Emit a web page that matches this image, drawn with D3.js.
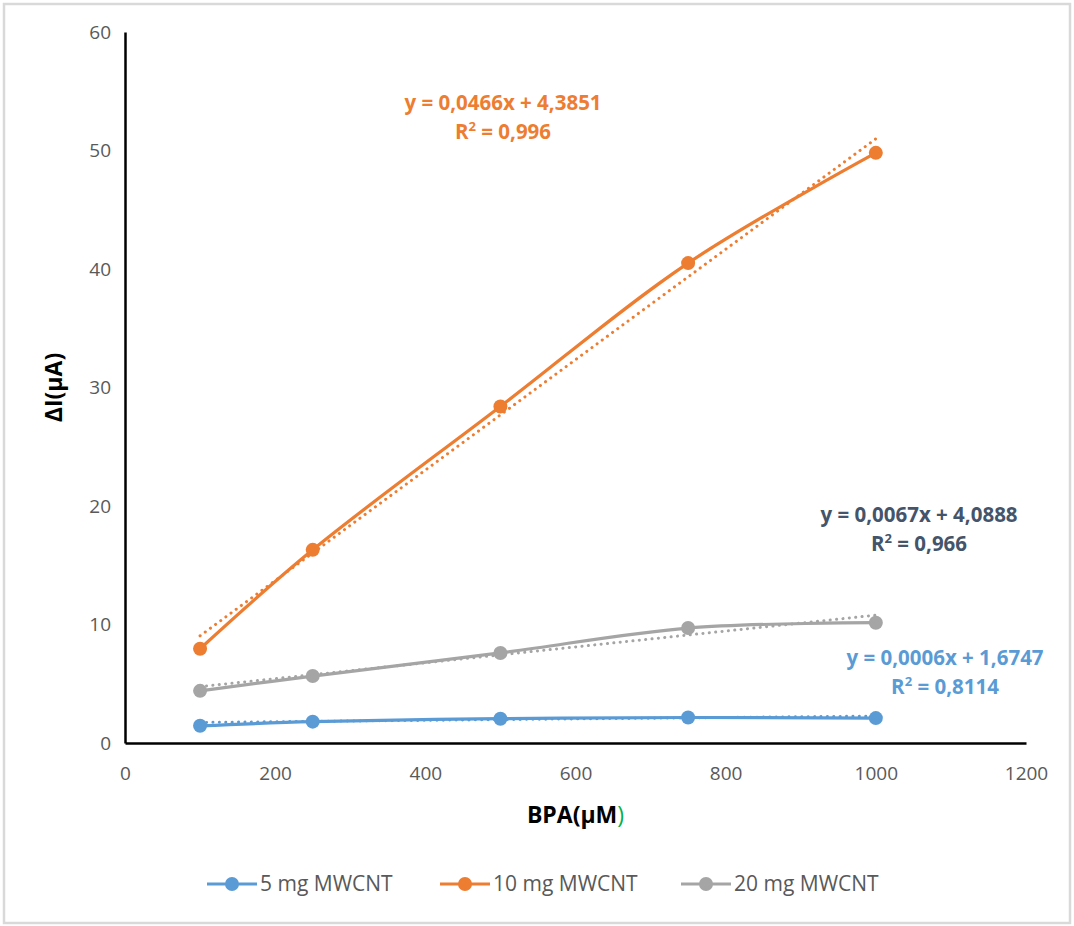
<!DOCTYPE html>
<html>
<head>
<meta charset="utf-8">
<script src="https://cdn.jsdelivr.net/npm/d3@7"></script>
<style>
  body { margin: 0; background: #fff; }
  svg text { font-family: "Open Sans", sans-serif; }
</style>
</head>
<body>
<div id="chart"></div>
<script>
/* DATA */
const xValues = [100, 250, 500, 750, 1000];
const series5 = [1.45, 1.8, 2.05, 2.15, 2.1];
const series10 = [7.95, 16.3, 28.4, 40.5, 49.8];
const series20 = [4.4, 5.65, 7.6, 9.7, 10.15];
const seriesNames = ["5 mg MWCNT", "10 mg MWCNT", "20 mg MWCNT"];
const slopes = [0.0006, 0.0466, 0.0067];
const intercepts = [1.6747, 4.3851, 4.0888];
const eqLabels = ["y = 0,0006x + 1,6747", "y = 0,0466x + 4,3851", "y = 0,0067x + 4,0888"];
const r2Labels = ["0,8114", "0,996", "0,966"];
const xTicks = [0, 200, 400, 600, 800, 1000, 1200];
const yTicks = [0, 10, 20, 30, 40, 50, 60];

const W = 1074, H = 926;
const margin = { top: 32, bottom: 183, left: 125, right: 48 };
const colors = ["#5b9bd5", "#ed7d31", "#a5a5a5"];
const eqColors = ["#5b9bd5", "#ed7d31", "#44546a"];

const svg = d3.select("#chart").append("svg")
  .attr("width", W).attr("height", H);

// outer frame
svg.append("rect")
  .attr("x", 4).attr("y", 4).attr("width", W - 8).attr("height", H - 7)
  .attr("fill", "#fff").attr("stroke", "#d9d9d9").attr("stroke-width", 2.5);

const xScale = d3.scaleLinear().domain([0, 1200]).range([margin.left, W - margin.right]);
const yScale = d3.scaleLinear().domain([0, 60]).range([H - margin.bottom, margin.top]);

// axes
const xAxis = svg.append("g")
  .attr("transform", `translate(0,${yScale(0)})`)
  .call(d3.axisBottom(xScale).tickValues(xTicks).tickFormat(d3.format("d")).tickSize(0).tickPadding(24));
const yAxis = svg.append("g")
  .attr("transform", `translate(${xScale(0)},0)`)
  .call(d3.axisLeft(yScale).tickValues(yTicks).tickSize(0).tickPadding(14));

[xAxis, yAxis].forEach(ax => {
  ax.select(".domain").attr("stroke", "#000").attr("stroke-width", 2.5);
  ax.selectAll(".tick text").attr("fill", "#595959").attr("font-size", 19)
    .style("font-family", "'Open Sans', sans-serif");
});

// axis titles
svg.append("text")
  .attr("transform", `translate(62,${(yScale(0) + yScale(60)) / 2}) rotate(-90)`)
  .attr("text-anchor", "middle").attr("font-weight", "bold").attr("font-size", 23)
  .text("ΔI(μA)");

const xt = svg.append("text")
  .attr("x", (xScale(0) + xScale(1200)) / 2).attr("y", 823)
  .attr("text-anchor", "middle").attr("font-weight", "bold").attr("font-size", 23);
xt.append("tspan").text("BPA(μM");
xt.append("tspan").attr("fill", "#00b050").attr("font-weight", "normal").text(")");

const allSeries = [series5, series10, series20];
const line = d3.line()
  .x(d => xScale(d[0])).y(d => yScale(d[1]))
  .curve(d3.curveCatmullRom.alpha(0.5));

// trendlines
allSeries.forEach((s, i) => {
  const x0 = d3.min(xValues), x1 = d3.max(xValues);
  svg.append("line")
    .attr("x1", xScale(x0)).attr("y1", yScale(slopes[i] * x0 + intercepts[i]))
    .attr("x2", xScale(x1)).attr("y2", yScale(slopes[i] * x1 + intercepts[i]))
    .attr("stroke", colors[i]).attr("stroke-width", 3)
    .attr("stroke-linecap", "round").attr("stroke-dasharray", "0.1 6.3");
});

// series lines and markers
allSeries.forEach((s, i) => {
  const pts = xValues.map((x, j) => [x, s[j]]);
  svg.append("path").datum(pts)
    .attr("d", line).attr("fill", "none")
    .attr("stroke", colors[i]).attr("stroke-width", 3.2);
  svg.append("g").selectAll("circle")
    .data(pts).join("circle")
    .attr("cx", d => xScale(d[0])).attr("cy", d => yScale(d[1]))
    .attr("r", 7).attr("fill", colors[i]);
});

// equation labels
const eqPos = [[945, 665, 694], [503, 110, 139], [919, 522, 551]];
eqLabels.forEach((t, i) => {
  const g = svg.append("g").attr("fill", eqColors[i]).attr("font-weight", "bold").attr("font-size", 20.5);
  g.append("text").attr("x", eqPos[i][0]).attr("y", eqPos[i][1])
    .attr("text-anchor", "middle").text(t);
  const r = g.append("text").attr("x", eqPos[i][0]).attr("y", eqPos[i][2])
    .attr("text-anchor", "middle");
  r.append("tspan").text("R");
  r.append("tspan").attr("font-size", 13).attr("dy", -8).text("2");
  r.append("tspan").attr("dy", 8).text(" = " + r2Labels[i]);
});

// legend
const legendX = [207, 440, 681];
const legend = svg.append("g");
seriesNames.forEach((n, i) => {
  const g = legend.append("g").attr("transform", `translate(${legendX[i]},884)`);
  g.append("line").attr("x1", 0).attr("x2", 50).attr("stroke", colors[i]).attr("stroke-width", 3.2);
  g.append("circle").attr("cx", 25).attr("r", 7).attr("fill", colors[i]);
  g.append("text").attr("x", 53).attr("dy", "0.35em")
    .attr("fill", "#595959").attr("font-size", 21).text(n);
});
</script>
</body>
</html>
